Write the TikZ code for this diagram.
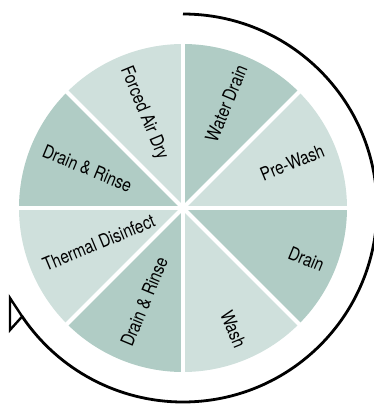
\documentclass[tikz,border=0pt]{standalone}
\usepackage{fontspec}
\setmainfont{TeX Gyre Heros}[FakeStretch=0.83]
\usepackage{tikz}
\usetikzlibrary{positioning}

\definecolor{sectdark}{RGB}{176,204,197}
\definecolor{sectlight}{RGB}{207,224,220}

\tikzset{
  steplabel/.style={font=\fontsize{18.5}{21}\selectfont, inner sep=0pt, text=black},
  gapline/.style={white, line width=4pt},
  cycleline/.style={black, line width=2.8pt},
}

\begin{document}
\begin{tikzpicture}[x=1pt, y=1pt]
            \useasboundingbox (-183,-197) rectangle (191,208);
            % wheel sectors
            \fill[sectdark] (0,0) -- (45:164) arc[start angle=45, end angle=90, radius=164] -- cycle;
            \fill[sectlight] (0,0) -- (0:164) arc[start angle=0, end angle=45, radius=164] -- cycle;
            \fill[sectdark] (0,0) -- (-45:164) arc[start angle=-45, end angle=0, radius=164] -- cycle;
            \fill[sectlight] (0,0) -- (-90:164) arc[start angle=-90, end angle=-45, radius=164] -- cycle;
            \fill[sectdark] (0,0) -- (225:164) arc[start angle=225, end angle=270, radius=164] -- cycle;
            \fill[sectlight] (0,0) -- (180:164) arc[start angle=180, end angle=225, radius=164] -- cycle;
            \fill[sectdark] (0,0) -- (135:164) arc[start angle=135, end angle=180, radius=164] -- cycle;
            \fill[sectlight] (0,0) -- (90:164) arc[start angle=90, end angle=135, radius=164] -- cycle;
            % white gaps
            \draw[gapline] (0:168) -- (180:168);
            \draw[gapline] (45:168) -- (225:168);
            \draw[gapline] (90:168) -- (270:168);
            \draw[gapline] (135:168) -- (315:168);
            % labels
            \node[steplabel, rotate=67.5, anchor=east] (waterdrain) at (67.5:154) {Water Drain};
            \node[steplabel, rotate=22.5, anchor=east] (prewash) at (22.5:152) {Pre-Wash};
            \node[steplabel, rotate=-22.5, anchor=east] (drain) at (-22.5:152) {Drain};
            \node[steplabel, rotate=-67.5, anchor=east] (wash) at (-67.5:151) {Wash};
            \node[steplabel, rotate=67.5, anchor=west] (rinselow) at (247.5:149) {Drain \& Rinse};
            \node[steplabel, rotate=22.5, anchor=west] (thermal) at (202.5:151) {Thermal Disinfect};
            \node[steplabel, rotate=-22.5, anchor=west] (rinseup) at (157.5:151) {Drain \& Rinse};
            \node[steplabel, rotate=-67.5, anchor=west] (airdry) at (112.5:152) {Forced Air Dry};
            % cycle arrow
            \coordinate (arcstart) at (90:194);
            \coordinate (arcend) at (-146:194);
            \coordinate (tiptop) at (-173,-90);
            \coordinate (tipfoot) at (-173,-122);
            \draw[cycleline] (arcstart) arc[start angle=90, end angle=-146, radius=194];
            \draw[cycleline, line width=2.4pt, line join=miter] (arcend) -- (tiptop) -- (tipfoot) -- cycle;
        \end{tikzpicture}
\end{document}
